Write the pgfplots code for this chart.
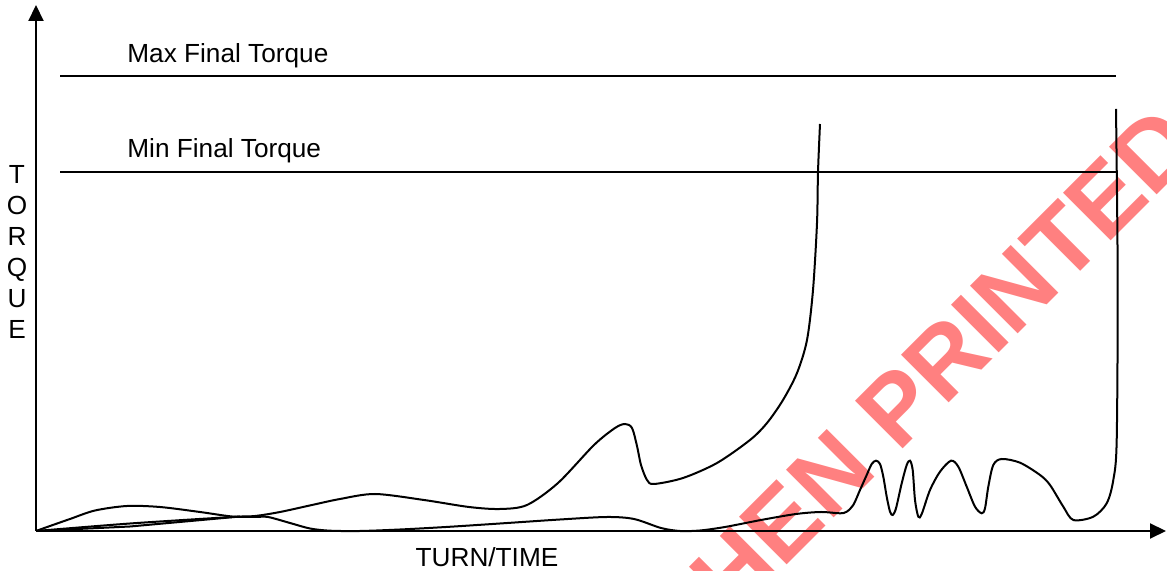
\documentclass[border=0pt]{standalone}
\usepackage{fontspec}
\setmainfont{Liberation Sans}
\usepackage{pgfplots}
\pgfplotsset{compat=1.18}
\usetikzlibrary{arrows.meta}
\definecolor{wm}{RGB}{255,128,128}
\begin{document}
\begin{tikzpicture}
\begin{axis}[
  x=0.5pt, y=0.5pt,
  xmin=36, xmax=1166, ymin=0, ymax=526,
  axis lines=left,
  axis line style={line width=1pt},
  every outer x axis line/.append style={-{Triangle[length=8pt,width=7.5pt]}},
  every outer y axis line/.append style={-{Triangle[length=8pt,width=7.5pt]}},
  xtick=\empty, ytick=\empty,
  clip=false, axis on top,
]
\coordinate (bbsw) at (axis cs:0,-40);
\coordinate (bbne) at (axis cs:1167,531);
% watermark (behind)
\begin{scope}
\clip (axis cs:0,-40) rectangle (axis cs:1167,531);
\node[anchor=base east, rotate=45, inner sep=0pt, text=wm,
      font=\bfseries\fontsize{49}{49}\selectfont] at (axis cs:1203,382) {UNCONTROLLED WHEN PRINTED};
\end{scope}
% limit lines
\addplot[black, line width=1pt, no markers] coordinates {(60,455) (1116,455)};
\addplot[black, line width=1pt, no markers] coordinates {(60,359) (1116,359)};
% curve ending with early spike
\addplot[black, line width=1pt, no markers, smooth, tension=0.5] coordinates {
 (36,0) (130,7.5) (232,14) (255,15) (280,19) (312,26) (340,32) (375,37)
 (424,31) (469,24) (500,22) (527,26) (558,48) (594,86) (615,103) (625,107)
 (632,103) (637,85) (641,66) (647,51) (654,47) (683,53) (717,68) (750,91)
 (767,108) (783,131) (797,158) (807,191) (813,241) (817,308) (818,359) (820,407)};
% second straight line from origin
\addplot[black, line width=1pt, no markers] coordinates {(36,0) (130,4.5) (240,14.5)};
% curve with oscillations and late spike
\addplot[black, line width=1pt, no markers, smooth, tension=0.5] coordinates {
 (36,0) (50,5) (70,12) (95,20.5) (127,25) (160,24) (200,19) (232,14.5)
 (255,14) (268,14) (290,8) (310,2.5) (330,0.3) (360,0) (400,1.5) (446,4)
 (500,7.5) (560,11.5) (607,14) (634,12) (661,3) (680,0) (700,0.5) (725,4)
 (761,11) (796,17) (821,19) (840,17.7) (846.7,19.3) (853.3,26) (860,41)
 (866.7,56) (871.7,67) (876,70.3) (880,67) (883.3,54.3) (886.7,34.3)
 (890,19.3) (892.7,16) (896,22.7) (901.7,47.7) (906.7,66) (910,70.3)
 (912.7,61) (915,31) (918.3,14.3) (921.7,17) (930,41) (940,59.3) (951,70.3)
 (958.3,64.3) (966.7,44.3) (975,24.3) (981.7,17.7) (985,22.7) (988.3,44.3)
 (993.3,66) (1001.7,72) (1020,68.3) (1040,56) (1050,46) (1063.3,24.3)
 (1073.3,11) (1093.3,14.3) (1106.7,27.7) (1113.3,51) (1116.7,91)
 (1117.7,251) (1116,422)};
% labels
\node[anchor=base west, inner sep=0pt, font=\fontsize{13.1}{15}\selectfont] at (axis cs:127,468) {Max Final Torque};
\node[anchor=base west, inner sep=0pt, font=\fontsize{13.1}{15}\selectfont] at (axis cs:127,373) {Min Final Torque};
\node[anchor=base, inner sep=0pt, font=\fontsize{13.1}{15}\selectfont] at (axis cs:487,-36) {TURN/TIME};
\node[anchor=north, inner sep=0pt, align=center, font=\fontsize{13.1}{15.5}\selectfont] at (axis cs:17,366) {T\\O\\R\\Q\\U\\E};
\end{axis}
\pgfresetboundingbox
\path[use as bounding box] (bbsw) rectangle (bbne);
\end{tikzpicture}
\end{document}
